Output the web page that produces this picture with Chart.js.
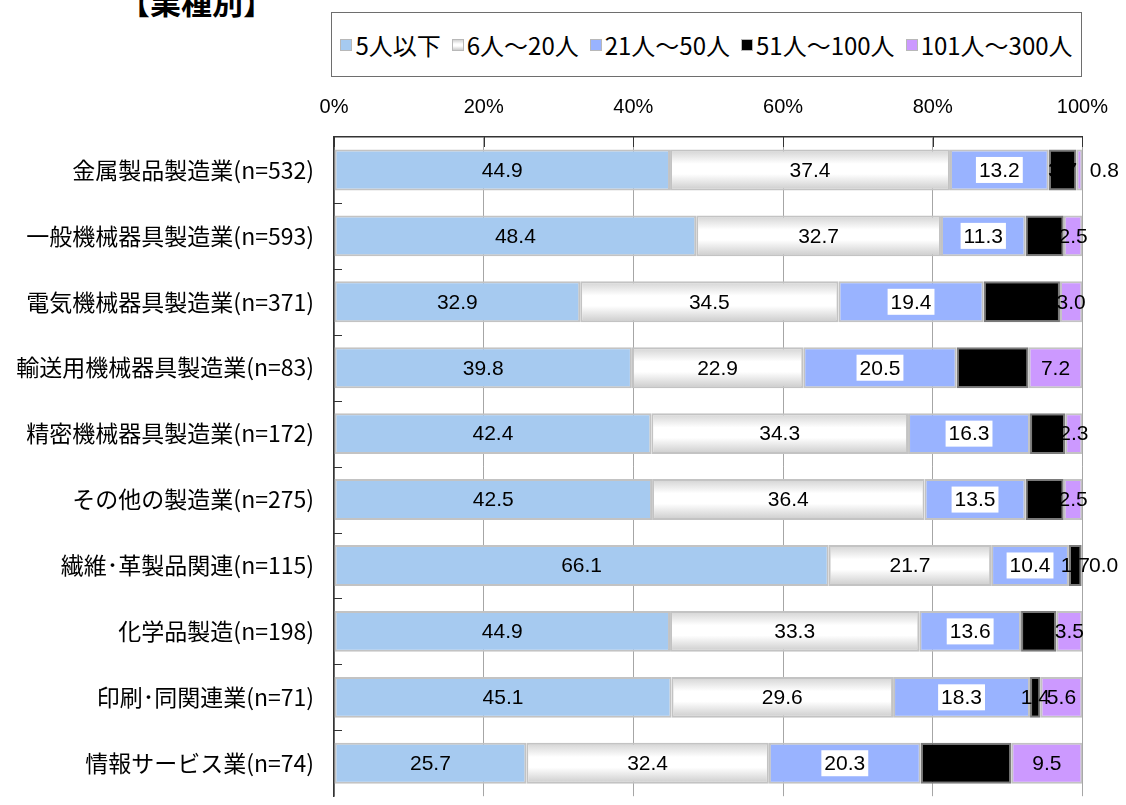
<!DOCTYPE html>
<html lang="ja">
<head>
<meta charset="utf-8">
<title>業種別</title>
<script src="https://cdn.jsdelivr.net/npm/chart.js@4.4.1/dist/chart.umd.min.js"></script>
<style>
html,body{margin:0;padding:0;background:#fff;}
body{width:1126px;height:805px;overflow:hidden;position:relative;font-family:"Noto Sans CJK JP",sans-serif;color:#000;}
#title{position:absolute;left:119px;top:-15px;font-size:31px;font-weight:bold;line-height:1;white-space:nowrap;}
#legend{position:absolute;left:331px;top:12px;width:751px;height:65px;border:1px solid #6e6e6e;box-sizing:border-box;
  display:flex;align-items:center;justify-content:center;gap:11px;font-size:24px;white-space:nowrap;}
.lg-item{display:flex;align-items:center;}
.lg-box{width:12px;height:12px;margin-right:3px;box-sizing:border-box;border:1px solid #b8b8b8;}
#wrap{position:absolute;left:0;top:0;width:1126px;height:830px;}
</style>
</head>
<body>
<div id="title">【業種別】</div>
<div id="legend"></div>
<div id="wrap"><canvas id="c"></canvas></div>
<script>
const categories = [
  "金属製品製造業(n=532)",
  "一般機械器具製造業(n=593)",
  "電気機械器具製造業(n=371)",
  "輸送用機械器具製造業(n=83)",
  "精密機械器具製造業(n=172)",
  "その他の製造業(n=275)",
  "繊維･革製品関連(n=115)",
  "化学品製造(n=198)",
  "印刷･同関連業(n=71)",
  "情報サービス業(n=74)"
];
const seriesLabels = ["5人以下", "6人～20人", "21人～50人", "51人～100人", "101人～300人"];
const upTo5     = [44.9, 48.4, 32.9, 39.8, 42.4, 42.5, 66.1, 44.9, 45.1, 25.7];
const from6     = [37.4, 32.7, 34.5, 22.9, 34.3, 36.4, 21.7, 33.3, 29.6, 32.4];
const from21    = [13.2, 11.3, 19.4, 20.5, 16.3, 13.5, 10.4, 13.6, 18.3, 20.3];
const from51    = [3.7, 5.1, 10.2, 9.6, 4.7, 5.1, 1.7, 4.7, 1.4, 12.1];
const from101   = [0.8, 2.5, 3.0, 7.2, 2.3, 2.5, 0.0, 3.5, 5.6, 9.5];
const xTicks = [0, 20, 40, 60, 80, 100];

const colors = ["#a6caf0", "#ffffff", "#99b3ff", "#000000", "#cc99ff"];
const barPct = 0.62;

function whiteFill(ctx){
  const chart = ctx.chart;
  const y = chart.scales && chart.scales.y;
  if(!y || ctx.dataIndex === undefined) return "#ffffff";
  const cy = y.getPixelForValue(ctx.dataIndex);
  const half = y.height / categories.length * barPct / 2;
  if(!isFinite(cy) || !isFinite(half) || half <= 0) return "#ffffff";
  const g = chart.ctx.createLinearGradient(0, cy - half, 0, cy + half);
  g.addColorStop(0, "#d2d2d2");
  g.addColorStop(0.35, "#ffffff");
  g.addColorStop(0.6, "#ffffff");
  g.addColorStop(1, "#cbcbcb");
  return g;
}

// legend built from the series arrays
(function buildLegend(){
  const lg = document.getElementById("legend");
  seriesLabels.forEach((s, i) => {
    const it = document.createElement("div");
    it.className = "lg-item";
    const bx = document.createElement("span");
    bx.className = "lg-box";
    bx.style.background = i === 1 ? "linear-gradient(#d2d2d2,#fff 40%,#fff 60%,#cbcbcb)" : colors[i];
    const tx = document.createElement("span");
    tx.textContent = s;
    it.appendChild(bx);
    it.appendChild(tx);
    lg.appendChild(it);
  });
})();

const innerTicks = {
  id: "innerTicks",
  afterDatasetsDraw(chart){
    const {ctx, chartArea: a, scales: {x, y}} = chart;
    ctx.save();
    ctx.strokeStyle = "#333";
    ctx.lineWidth = 1;
    ctx.beginPath();
    x.ticks.forEach(t => {
      const px = Math.round(x.getPixelForValue(t.value)) + 0.5;
      ctx.moveTo(px, a.top);
      ctx.lineTo(px, a.top + 10);
    });
    for(let i = 0; i < categories.length - 1; i++){
      const py = Math.round((y.getPixelForValue(i) + y.getPixelForValue(i + 1)) / 2) + 0.5;
      ctx.moveTo(a.left, py);
      ctx.lineTo(a.left + 8, py);
    }
    ctx.stroke();
    ctx.restore();
  }
};

const barLabels = {
  id: "barLabels",
  afterDatasetsDraw(chart){
    const ctx = chart.ctx;
    ctx.save();
    ctx.font = '21px "Liberation Sans", Arial, sans-serif';
    ctx.textAlign = "center";
    ctx.textBaseline = "middle";
    chart.data.datasets.forEach((ds, di) => {
      chart.getDatasetMeta(di).data.forEach((bar, i) => {
        const v = ds.data[i];
        const txt = v.toFixed(1);
        let x = (bar.x + bar.base) / 2;
        if(di === 4 && v < 1) x = bar.x + 22;   // tiny slice: label moved outside
        const y = bar.y;
        if(di === 2){
          const w = ctx.measureText(txt).width + 6;
          ctx.fillStyle = "#fff";
          ctx.fillRect(x - w / 2, y - 13, w, 26);
        }
        ctx.fillStyle = "#000";
        ctx.fillText(txt, x, y + 1);
      });
    });
    ctx.restore();
  }
};

const seriesData = [upTo5, from6, from21, from51, from101];

new Chart(document.getElementById("c"), {
  type: "bar",
  data: {
    labels: categories,
    datasets: seriesData.map((d, i) => ({
      label: seriesLabels[i],
      data: d,
      backgroundColor: i === 1 ? whiteFill : colors[i],
      borderColor: i === 3 ? "#7a7a7a" : "#c3c3c3",
      borderWidth: 2,
      borderSkipped: false,
      barPercentage: barPct,
      categoryPercentage: 1
    }))
  },
  options: {
    indexAxis: "y",
    responsive: true,
    maintainAspectRatio: false,
    animation: false,
    layout: { padding: { top: 0, right: 43, bottom: 18, left: 0 } },
    plugins: { legend: { display: false }, tooltip: { enabled: false } },
    scales: {
      x: {
        type: "linear",
        position: "top",
        stacked: true,
        min: 0,
        max: 100,
        afterBuildTicks: s => { s.ticks = xTicks.map(v => ({ value: v })); },
        afterFit: s => { s.height = 137; },
        ticks: {
          callback: v => v + "%",
          font: { family: '"Liberation Sans", Arial, sans-serif', size: 20 },
          color: "#000",
          padding: 18,
          maxRotation: 0
        },
        grid: { color: "#a6a6a6", lineWidth: 1, drawTicks: false },
        border: { color: "#333", width: 1.5 }
      },
      y: {
        stacked: true,
        afterFit: s => { s.width = 334; },
        ticks: {
          font: { family: '"Noto Sans CJK JP", sans-serif', size: 23 },
          color: "#000",
          padding: 20
        },
        grid: { drawOnChartArea: false, drawTicks: false },
        border: { color: "#333", width: 1.5 }
      }
    }
  },
  plugins: [innerTicks, barLabels]
});
</script>
</body>
</html>
